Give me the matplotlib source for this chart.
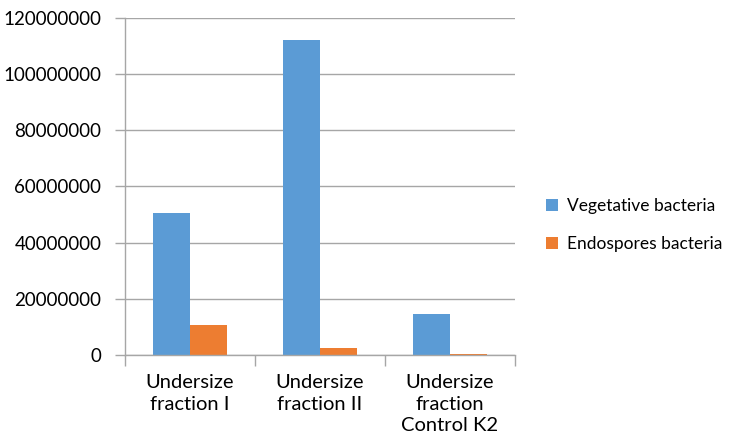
import matplotlib.pyplot as plt
import numpy as np

plt.rcParams['font.family'] = ['Lato', 'DejaVu Sans']

categories = ["Undersize\nfraction I", "Undersize\nfraction II", "Undersize\nfraction\nControl K2"]
vegetative = [50600000, 112200000, 14600000]
endospores = [10700000, 2500000, 500000]

blue = "#5B9BD5"
orange = "#ED7D31"
grey = "#A6A6A6"

fig = plt.figure(figsize=(7.47, 4.45), dpi=100)
ax = fig.add_axes([0.1673, 0.2022, 0.5221, 0.7574])

x = np.arange(len(categories))
w = 0.285
ax.bar(x - w / 2, vegetative, w, color=blue, label="Vegetative bacteria")
ax.bar(x + w / 2, endospores, w, color=orange, label="Endospores bacteria")

ax.set_xlim(-0.5, 2.5)
ax.set_ylim(0, 120000000)
ax.set_yticks(np.arange(0, 120000001, 20000000))
ax.set_yticklabels([str(v) for v in range(0, 120000001, 20000000)])
ax.yaxis.grid(True, color=grey, linewidth=1)
ax.set_axisbelow(True)

# category boundary ticks on x axis
ax.set_xticks([-0.5, 0.5, 1.5, 2.5])
ax.set_xticklabels([])
ax.set_xticks(x, minor=True)
ax.set_xticklabels(categories, minor=True, fontsize=14.5, linespacing=1.3)
ax.tick_params(axis="x", which="minor", length=0, pad=14)
ax.tick_params(axis="x", which="major", length=8, color=grey, width=1)
ax.tick_params(axis="y", length=7, color=grey, width=1, labelsize=13.5, pad=10)

for s in ["top", "right"]:
    ax.spines[s].set_visible(False)
for s in ["left", "bottom"]:
    ax.spines[s].set_color(grey)
    ax.spines[s].set_linewidth(1)

ax.legend(loc="center left", bbox_to_anchor=(1.04, 0.385), frameon=False,
          fontsize=12.5, handlelength=0.7, handleheight=0.7, labelspacing=1.25,
          handletextpad=0.5)

fig.savefig("out.png", dpi=100)
